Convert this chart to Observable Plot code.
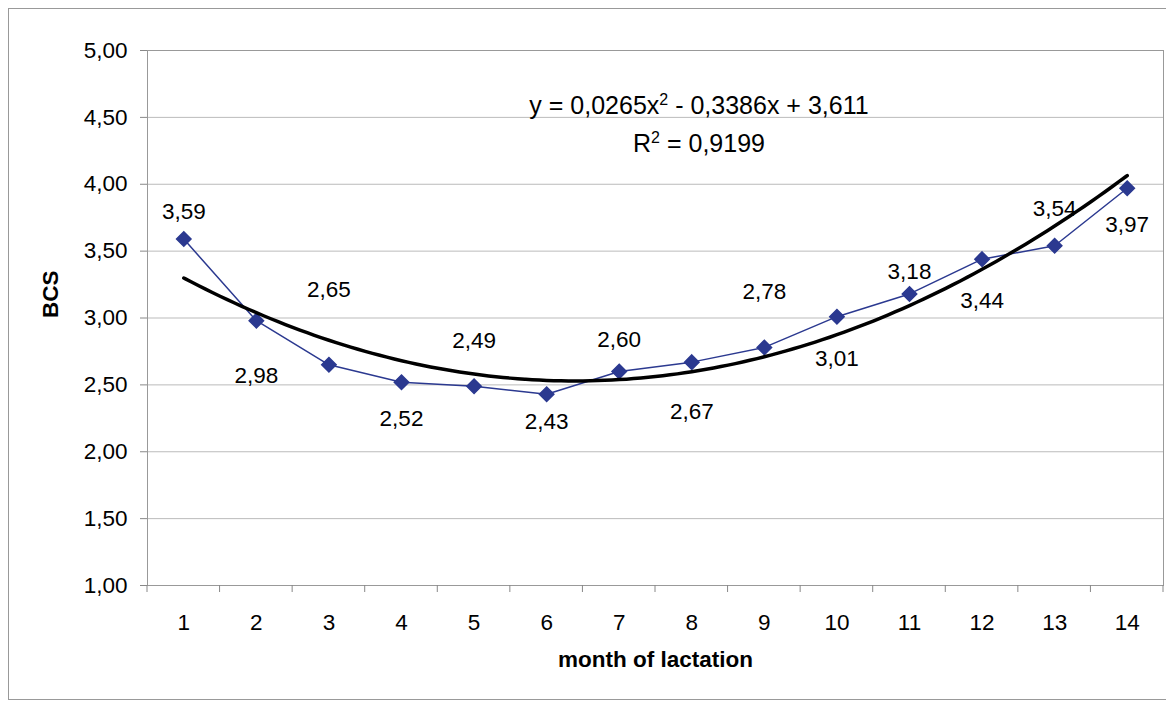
<!DOCTYPE html>
<html><head><meta charset="utf-8">
<script src="https://cdn.jsdelivr.net/npm/d3@7"></script>
<script src="https://cdn.jsdelivr.net/npm/@observablehq/plot@0.6"></script>
<style>
body{margin:0;background:#fff;font-family:"Liberation Sans",Arial,sans-serif}
#wrap{position:relative;width:1166px;height:702px}
#box{position:absolute;left:8px;top:8px;width:1200px;height:690px;border:1px solid #999;border-right:none}
#eq{position:absolute;left:0;width:1398px;top:86px;text-align:center;font-size:25px;line-height:38px;color:#000}
#eq sup{font-size:16px;vertical-align:9px;line-height:0}
#chart svg text{font-size:22.5px}
</style></head><body>
<div id="wrap"><div id="box"></div><div id="chart"></div>
<div id="eq">y = 0,0265x<sup>2</sup> - 0,3386x + 3,611<br>R<sup>2</sup> = 0,9199</div></div>
<script>
const months = [1,2,3,4,5,6,7,8,9,10,11,12,13,14];
const bcs = [3.59,2.98,2.65,2.52,2.49,2.43,2.60,2.67,2.78,3.01,3.18,3.44,3.54,3.97];
const trendCoef = [0.0265, -0.3386, 3.611];
const yTicks = [1,1.5,2,2.5,3,3.5,4,4.5,5];
const labelDy = [-27,55,-75,37,-45,28,-32,50,-56,42,-22,42,-37,37];

const fmt = v => v.toFixed(2).replace(".", ",");
const data = months.map((m,i)=>({m, v:bcs[i], dy:labelDy[i]}));
const trend = [];
for (let x=1; x<=14.0001; x+=0.1) trend.push({x, y: trendCoef[0]*x*x + trendCoef[1]*x + trendCoef[2]});

const W=1166, H=702, mL=147, mR=3, mT=50, mB=117;
const xs = d3.scaleLinear().domain([0.5,14.5]).range([mL, W-mR]);

const plot = Plot.plot({
  width:W, height:H, marginLeft:mL, marginRight:mR, marginTop:mT, marginBottom:mB,
  style:{fontFamily:"Liberation Sans, Arial, sans-serif", fontSize:"22px", color:"#000", background:"transparent"},
  x:{domain:[0.5,14.5], axis:null},
  y:{domain:[1,5], axis:null},
  marks:[
    Plot.gridY(yTicks, {stroke:"#bbb", strokeOpacity:1}),
    Plot.frame({stroke:"#999"}),
    Plot.text(months, {x:d=>d, y:1, text:d=>String(d), dy:37}),
    Plot.line(data, {x:"m", y:"v", stroke:"#2B3990", strokeWidth:1.5}),
    Plot.dot(data, {x:"m", y:"v", symbol:"diamond2", r:6.5, fill:"#2B3990", stroke:"#2B3990"}),
    Plot.line(trend, {x:"x", y:"y", stroke:"#000", strokeWidth:3.5, curve:"basis"}),
    ...data.map(d => Plot.text([d], {x:"m", y:"v", text:e=>fmt(e.v), dy:d.dy})),
    Plot.axisY(yTicks, {tickFormat:fmt, tickSize:7, tickPadding:13, stroke:"#888", label:null}),
    Plot.text(["month of lactation"], {frameAnchor:"bottom", dy:81, fontWeight:"bold"}),
    Plot.text(["BCS"], {frameAnchor:"left", dx:-97, rotate:-90, fontWeight:"bold"})
  ]
});
d3.select(plot).append("g").selectAll("line").data(d3.range(0.5,15,1)).join("line")
  .attr("x1",d=>xs(d)).attr("x2",d=>xs(d)).attr("y1",H-mB).attr("y2",H-mB+7).attr("stroke","#888");
document.getElementById("chart").append(plot);
</script></body></html>
